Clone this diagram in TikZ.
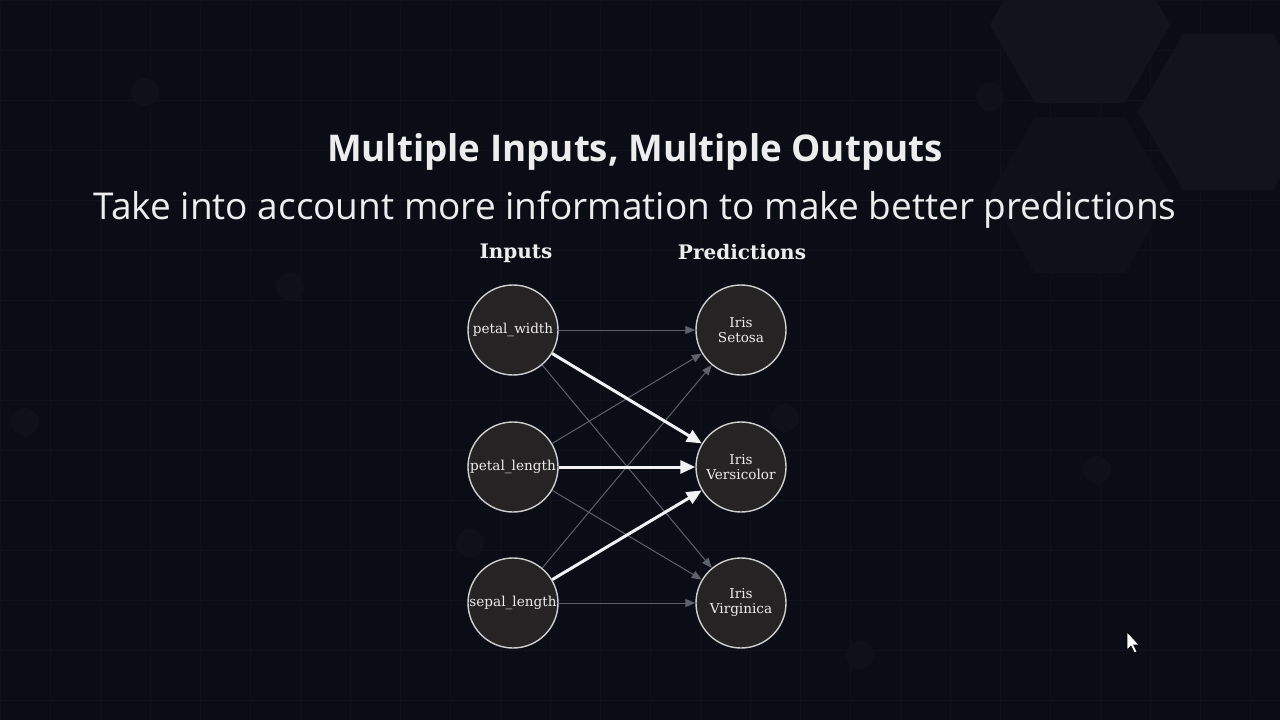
\documentclass[tikz,border=0pt]{standalone}
\usepackage{fontspec}
\setmainfont{DejaVu Serif}
\newfontfamily\opensans{Open Sans}
\usetikzlibrary{arrows.meta,shapes.geometric}
\definecolor{bg}{HTML}{0A0D16}
\definecolor{gridc}{HTML}{0F121B}
\definecolor{hexc}{HTML}{11141D}
\definecolor{blobc}{HTML}{0E111A}
\definecolor{nodefill}{HTML}{252323}
\definecolor{nodeline}{HTML}{CFCFCF}
\definecolor{thin}{HTML}{5E616A}
\definecolor{thick}{HTML}{F2F2F6}
\definecolor{txt}{HTML}{EDEDED}
\tikzset{
  unit/.style={circle, draw=nodeline, line width=1.4pt, fill=nodefill, minimum size=90pt, inner sep=0pt, text=txt, font=\fontsize{13.6}{16.5}\selectfont, align=center},
  weak/.style={draw=thin, line width=1pt, -{Triangle[length=10pt,width=8pt]}},
  strong/.style={draw=thick, line width=3pt, -{Triangle[length=15pt,width=13pt]}},
  head/.style={text=txt, font=\bfseries\fontsize{20}{24}\selectfont},
  hexa/.style={regular polygon, regular polygon sides=6, minimum size=#1, fill=hexc, inner sep=0pt},
}
\begin{document}
\begin{tikzpicture}[x=1pt,y=-1pt]
\useasboundingbox (0,0) rectangle (1280,720);
\fill[bg] (0,0) rectangle (1280,720);
% faint grid
\draw[gridc, line width=0.6pt] (0,0) grid[step=50pt] (1280,720);
% faint hexagons top right
\node[hexa=180pt] (hx1) at (1080,25) {};
\node[hexa=180pt] (hx2) at (1228,112) {};
\node[hexa=180pt, fill=blobc] (hx3) at (1080,195) {};
% faint blobs
\foreach \p in {(145,92),(990,97),(290,287),(785,418),(25,422),(470,543),(860,655),(1097,470)}
  \fill[blobc] \p circle (14pt);
% titles
\node[text=txt, font=\opensans\bfseries\fontsize{36.8}{42}\selectfont] (title) at (635,152) {Multiple Inputs, Multiple Outputs};
\node[text=txt, font=\opensans\fontsize{37}{42}\selectfont] (subtitle) at (635,210) {Take into account more information to make better predictions};
\node[head] (hin) at (516,253) {Inputs};
\node[head] (hout) at (742,252) {Predictions};
% nodes
\node[unit] (pw) at (513,330) {\raisebox{-2pt}{petal\_width}};
\node[unit] (pl) at (513,467) {\raisebox{-2pt}{petal\_length}};
\node[unit] (sl) at (513,603) {\raisebox{-2pt}{sepal\_length}};
\node[unit] (set) at (741,330) {\raisebox{-1.5pt}{Iris}\\Setosa};
\node[unit] (ver) at (741,467) {\raisebox{-1.5pt}{Iris}\\Versicolor};
\node[unit] (vir) at (741,603) {\raisebox{-1.5pt}{Iris}\\Virginica};
% weak edges
\draw[weak] (pw) -- (set);
\draw[weak] (pw) -- (vir);
\draw[weak] (pl) -- (set);
\draw[weak] (pl) -- (vir);
\draw[weak] (sl) -- (set);
\draw[weak] (sl) -- (vir);
% strong edges
\draw[strong] (pw) -- (ver);
\draw[strong] (pl) -- (ver);
\draw[strong] (sl) -- (ver);
% cursor
\coordinate (cur) at (1127,632);
\fill[white, draw=black, line width=0.6pt] (cur) -- ++(0,18) -- ++(4,-4) -- ++(3.5,7) -- ++(2.5,-1.2) -- ++(-3.5,-7) -- ++(5.5,0) -- cycle;
\end{tikzpicture}
\end{document}
